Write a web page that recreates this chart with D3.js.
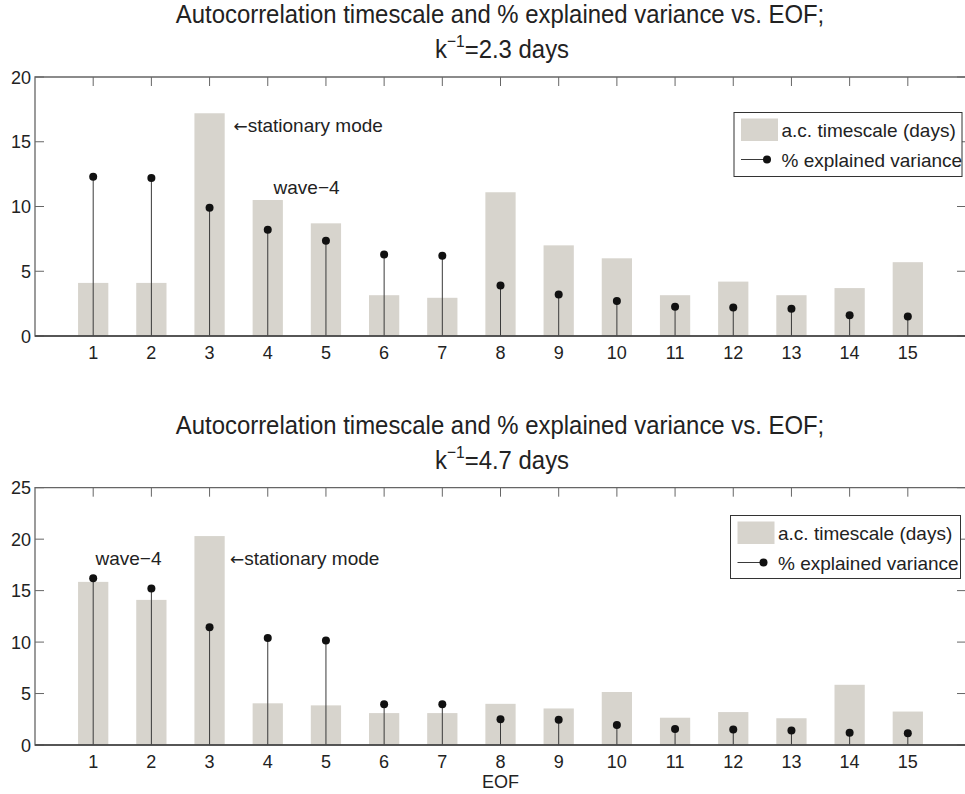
<!DOCTYPE html>
<html><head><meta charset="utf-8">
<script src="https://cdn.jsdelivr.net/npm/d3@7/dist/d3.min.js"></script>
<style>
body{margin:0;background:#fff}
svg{display:block}
text{font-family:"Liberation Sans",Arial,Helvetica,sans-serif;fill:#222}
</style>
</head><body>
<svg id="chart" width="965" height="794"></svg>
<script>
// ---- data ----
const eofs = [1,2,3,4,5,6,7,8,9,10,11,12,13,14,15];
const timescaleK23 = [4.1,4.1,17.2,10.5,8.7,3.15,2.95,11.1,7.0,6.0,3.15,4.2,3.15,3.7,5.7];
const varianceK23  = [12.3,12.2,9.9,8.2,7.35,6.3,6.2,3.9,3.2,2.7,2.25,2.2,2.1,1.6,1.5];
const timescaleK47 = [15.85,14.1,20.3,4.05,3.85,3.1,3.1,4.0,3.55,5.15,2.65,3.2,2.6,5.85,3.25];
const varianceK47  = [16.2,15.2,11.45,10.4,10.15,3.95,3.95,2.5,2.45,1.95,1.55,1.5,1.4,1.2,1.15];
const yTicksTop = [0,5,10,15,20];
const yTicksBottom = [0,5,10,15,20,25];
const titleText = "Autocorrelation timescale and % explained variance vs. EOF;";
const kInverse = ["2.3","4.7"];
const legendLabels = ["a.c. timescale (days)","% explained variance"];
const xLabel = "EOF";
const notesTop = [{arrow:true, text:"stationary mode", x:3.41, y:16.2},{arrow:false, text:"wave\u22124", x:4.1, y:11.45}];
const notesBottom = [{arrow:false, text:"wave\u22124", x:1.04, y:18.05},{arrow:true, text:"stationary mode", x:3.35, y:18.05}];

// ---- layout ----
const panels = [
  {ts:timescaleK23, v:varianceK23, ymax:20, ticks:yTicksTop, top:77, bottom:336, k:kInverse[0], notes:notesTop,
   legend:{x:734, y:112.5, w:228, h:64}, xlab:false},
  {ts:timescaleK47, v:varianceK47, ymax:25, ticks:yTicksBottom, top:487.7, bottom:745, k:kInverse[1], notes:notesBottom,
   legend:{x:730.5, y:515.5, w:230, h:63}, xlab:true}
];
const svg = d3.select("#chart");
const left = 35, right = 966;
const barColor = "#d7d4cd", frameColor = "#666", stemColor = "#3a3a3a";
const x = d3.scaleLinear().domain([0,16]).range([left,right]);
const barW = 0.52;

panels.forEach(p => {
  const g = svg.append("g");
  const y = d3.scaleLinear().domain([0,p.ymax]).range([p.bottom,p.top]);

  // title (condensed look)
  const tg1 = g.append("g").attr("transform",`translate(500,${p.top-54}) scale(0.92,1)`);
  tg1.append("text").attr("text-anchor","middle").style("font-size","26px").text(titleText);
  const tg2 = g.append("g").attr("transform",`translate(502,${p.top-19}) scale(0.92,1)`);
  const t2 = tg2.append("text").attr("text-anchor","middle").style("font-size","26px");
  t2.append("tspan").text("k");
  t2.append("tspan").attr("dy",-11).style("font-size","17px").text("\u22121");
  t2.append("tspan").attr("dy",11).text("="+p.k+" days");

  // ticks (under data)
  const tickLen = 9;
  g.append("g").selectAll("line").data(eofs).join("line")
    .attr("x1",d=>x(d)).attr("x2",d=>x(d)).attr("y1",p.top).attr("y2",p.top+tickLen)
    .attr("stroke",frameColor).attr("stroke-width",1);
  g.append("g").selectAll("line").data(eofs).join("line")
    .attr("x1",d=>x(d)).attr("x2",d=>x(d)).attr("y1",p.bottom).attr("y2",p.bottom-tickLen)
    .attr("stroke",frameColor).attr("stroke-width",1);
  g.append("g").selectAll("line").data(p.ticks).join("line")
    .attr("x1",left).attr("x2",left+tickLen).attr("y1",d=>y(d)).attr("y2",d=>y(d))
    .attr("stroke",frameColor).attr("stroke-width",1);
  g.append("g").selectAll("line").data(p.ticks).join("line")
    .attr("x1",right).attr("x2",right-tickLen).attr("y1",d=>y(d)).attr("y2",d=>y(d))
    .attr("stroke",frameColor).attr("stroke-width",1);

  // bars
  g.append("g").selectAll("rect").data(p.ts).join("rect")
    .attr("x",(d,i)=>x(eofs[i]-barW/2)).attr("width",x(barW)-x(0))
    .attr("y",d=>y(d)).attr("height",d=>y(0)-y(d)).attr("fill",barColor);

  // stems
  g.append("g").selectAll("line").data(p.v).join("line")
    .attr("x1",(d,i)=>x(eofs[i])).attr("x2",(d,i)=>x(eofs[i]))
    .attr("y1",y(0)).attr("y2",d=>y(d)).attr("stroke",stemColor).attr("stroke-width",1);
  g.append("g").selectAll("circle").data(p.v).join("circle")
    .attr("cx",(d,i)=>x(eofs[i])).attr("cy",d=>y(d)).attr("r",4).attr("fill","#111");

  // frame
  g.append("path").attr("d",`M${left},${p.bottom}V${p.top}H${right}V${p.bottom}Z`)
    .attr("fill","none").attr("stroke",frameColor).attr("stroke-width",1.3);
  g.append("line").attr("x1",left).attr("x2",right).attr("y1",p.bottom).attr("y2",p.bottom)
    .attr("stroke","#444").attr("stroke-width",1.5);

  // tick labels
  g.append("g").selectAll("text").data(eofs).join("text")
    .attr("x",d=>x(d)).attr("y",p.bottom+23).attr("text-anchor","middle")
    .style("font-size","18px").text(d=>d);
  g.append("g").selectAll("text").data(p.ticks).join("text")
    .attr("x",left-4).attr("y",d=>y(d)+6.5).attr("text-anchor","end")
    .style("font-size","18px").text(d=>d);

  // annotations
  const nt = g.append("g").selectAll("text").data(p.notes).join("text")
    .attr("x",d=>x(d.x)).attr("y",d=>y(d.y)+6).style("font-size","19px");
  nt.filter(d=>d.arrow).append("tspan").style("font-family","'DejaVu Sans',sans-serif").style("font-size","17px").text("\u2190");
  nt.append("tspan").text(d=>d.text);

  if (p.xlab) g.append("text").attr("x",x(8)).attr("y",p.bottom+43).attr("text-anchor","middle")
    .style("font-size","18px").text(xLabel);

  // legend
  const lg = g.append("g").attr("transform",`translate(${p.legend.x},${p.legend.y})`);
  lg.append("rect").attr("width",p.legend.w).attr("height",p.legend.h)
    .attr("fill","#fff").attr("stroke","#333").attr("stroke-width",1);
  lg.append("rect").attr("x",7).attr("y",6).attr("width",37).attr("height",22.5).attr("fill",barColor);
  lg.append("line").attr("x1",7).attr("x2",33).attr("y1",47).attr("y2",47).attr("stroke",stemColor);
  lg.append("circle").attr("cx",33).attr("cy",47).attr("r",4).attr("fill","#111");
  lg.selectAll("text.lt").data(legendLabels).join("text").attr("class","lt")
    .attr("x",47.5).attr("y",(d,i)=>24+i*30).style("font-size","19px").text(d=>d);
});
</script>
</body></html>
